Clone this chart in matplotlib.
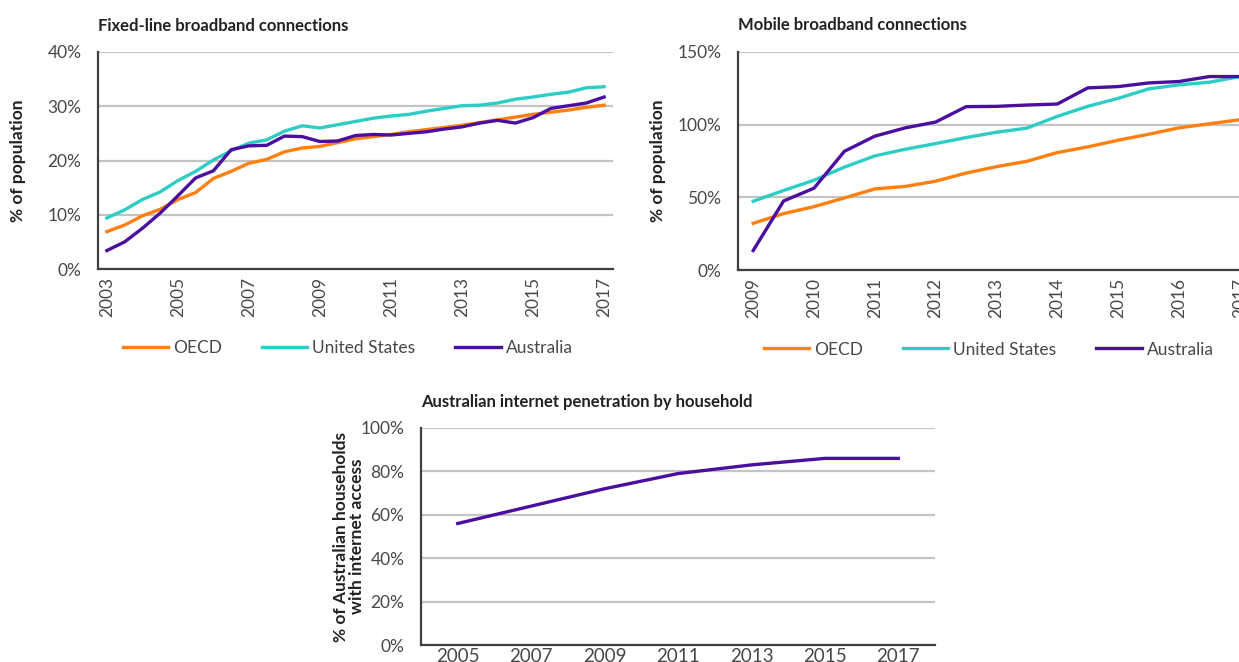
import matplotlib
matplotlib.use("Agg")
import matplotlib.pyplot as plt
from matplotlib.ticker import FuncFormatter

plt.rcParams['font.family'] = ['Lato', 'DejaVu Sans']

# --- data -------------------------------------------------------------
# fixed-line broadband, % of population, half-yearly 2003 .. 2017
FIXED_TICKS = ["2003", "2005", "2007", "2009", "2011", "2013", "2015", "2017"]
fixed_oecd = [6.9, 8.1, 9.8, 11.0, 12.8, 14.1, 16.7, 18.0, 19.5, 20.2, 21.6, 22.3,
              22.6, 23.3, 24.0, 24.4, 24.8, 25.3, 25.7, 26.1, 26.5, 27.0, 27.5,
              28.0, 28.5, 28.9, 29.3, 29.8, 30.2]
fixed_us = [9.4, 10.9, 12.8, 14.2, 16.3, 18.0, 20.1, 21.8, 23.2, 23.8, 25.4, 26.4,
            26.0, 26.6, 27.2, 27.8, 28.2, 28.5, 29.1, 29.6, 30.1, 30.2, 30.6,
            31.3, 31.7, 32.2, 32.6, 33.4, 33.6]
fixed_aus = [3.4, 5.0, 7.5, 10.3, 13.5, 16.8, 18.1, 22.0, 22.7, 22.8, 24.5, 24.4,
             23.5, 23.6, 24.6, 24.8, 24.7, 25.0, 25.3, 25.8, 26.2, 26.9, 27.4,
             26.9, 27.9, 29.6, 30.1, 30.6, 31.7]

# mobile broadband, % of population, half-yearly 2009 .. 2017
MOBILE_TICKS = ["2009", "2010", "2011", "2012", "2013", "2014", "2015", "2016", "2017"]
mobile_oecd = [32.1, 38.8, 43.6, 49.6, 55.8, 57.5, 61.1, 66.7, 71.1, 74.8, 80.8,
               84.7, 89.3, 93.4, 97.8, 100.6, 103.4]
mobile_us = [47.3, 54.7, 61.8, 70.8, 78.5, 83.1, 87.0, 91.1, 94.8, 97.6, 105.7,
             112.6, 118.1, 124.6, 127.4, 129.2, 133.1]
mobile_aus = [13.4, 47.5, 56.3, 81.7, 92.1, 97.8, 101.8, 112.4, 112.6, 113.5, 114.2,
              125.3, 126.2, 128.7, 129.7, 133.1, 133.1]

# households with internet access
HH_YEARS = ["2005", "2007", "2009", "2011", "2013", "2015", "2017"]
hh_aus = [56.0, 64.0, 72.0, 79.0, 83.0, 86.0, 86.0]

ORANGE = "#ff7f11"
TEAL = "#2dcdc5"
PURPLE = "#4a0f9e"
TXT = "#484848"
GRID = "#c4c4c4"

W, H = 1239, 662
fig = plt.figure(figsize=(W / 100, H / 100), dpi=100)


def px_axes(left, right, top, bottom):
    return fig.add_axes([left / W, 1 - bottom / H, (right - left) / W, (bottom - top) / H])


def style(ax, ymax, ystep, title, ylabel, label_x):
    ax.set_ylim(0, ymax)
    ax.set_yticks(range(0, ymax + 1, ystep))
    ax.yaxis.set_major_formatter(FuncFormatter(lambda v, p: f"{v:.0f}%"))
    ax.grid(axis='y', color=GRID, linewidth=1.6)
    ax.set_axisbelow(True)
    for s in ("top", "right"):
        ax.spines[s].set_visible(False)
    for s in ("left", "bottom"):
        ax.spines[s].set_color("#404040")
        ax.spines[s].set_linewidth(1.6)
    ax.tick_params(length=0, colors=TXT, labelsize=12.5)
    ax.tick_params(axis='y', pad=12)
    ax.text(0, 1.122, title, transform=ax.transAxes, va='center', ha='left',
            fontsize=12, fontweight='bold', color="#222222")
    ax.set_ylabel(ylabel, fontsize=12.5, fontweight='bold', color="#222222", linespacing=1.0)
    ax.yaxis.set_label_coords(label_x, 0.5)


def legend(ax, lines):
    ax.legend(lines, ["OECD", "United States", "Australia"], loc='center',
              bbox_to_anchor=(0.485, -0.365), ncol=3, frameon=False,
              handlelength=2.6, handletextpad=0.3, columnspacing=2.3,
              prop={'size': 12.5}, labelcolor=TXT)


# --- fixed-line --------------------------------------------------------
ax1 = px_axes(98, 613, 52, 269)
xs = range(len(fixed_aus))
l1, = ax1.plot(xs, fixed_oecd, color=ORANGE, lw=2.4)
l2, = ax1.plot(xs, fixed_us, color=TEAL, lw=2.4)
l3, = ax1.plot(xs, fixed_aus, color=PURPLE, lw=2.4)
ax1.set_xlim(-0.5, len(fixed_aus) - 0.5)
ax1.set_xticks(range(0, len(fixed_aus), 4))
ax1.set_xticklabels(FIXED_TICKS, rotation=90)
style(ax1, 40, 10, "Fixed-line broadband connections", "% of population", -0.14)
ax1.tick_params(axis='x', pad=6)
legend(ax1, [l1, l2, l3])

# --- mobile ------------------------------------------------------------
ax2 = px_axes(738, 1255, 52, 270)
xm = range(len(mobile_aus))
m1, = ax2.plot(xm, mobile_oecd, color=ORANGE, lw=2.4)
m2, = ax2.plot(xm, mobile_us, color=TEAL, lw=2.4)
m3, = ax2.plot(xm, mobile_aus, color=PURPLE, lw=2.4)
ax2.set_xlim(-0.5, len(mobile_aus) - 0.5)
ax2.set_xticks(range(0, len(mobile_aus), 2))
ax2.set_xticklabels(MOBILE_TICKS, rotation=90)
style(ax2, 150, 50, "Mobile broadband connections", "% of population", -0.14)
ax2.tick_params(axis='x', pad=6)
legend(ax2, [m1, m2, m3])

# --- households --------------------------------------------------------
ax3 = px_axes(421, 935, 428, 645)
ax3.plot(range(len(hh_aus)), hh_aus, color=PURPLE, lw=2.4)
ax3.set_xlim(-0.5, len(hh_aus) - 0.5)
ax3.set_xticks(range(len(hh_aus)))
ax3.set_xticklabels(HH_YEARS)
style(ax3, 100, 20, "Australian internet penetration by household",
      "% of Australian households\nwith internet access", -0.109)
ax3.tick_params(axis='x', pad=2, labelsize=13.5)

fig.savefig("out.png", dpi=100)
